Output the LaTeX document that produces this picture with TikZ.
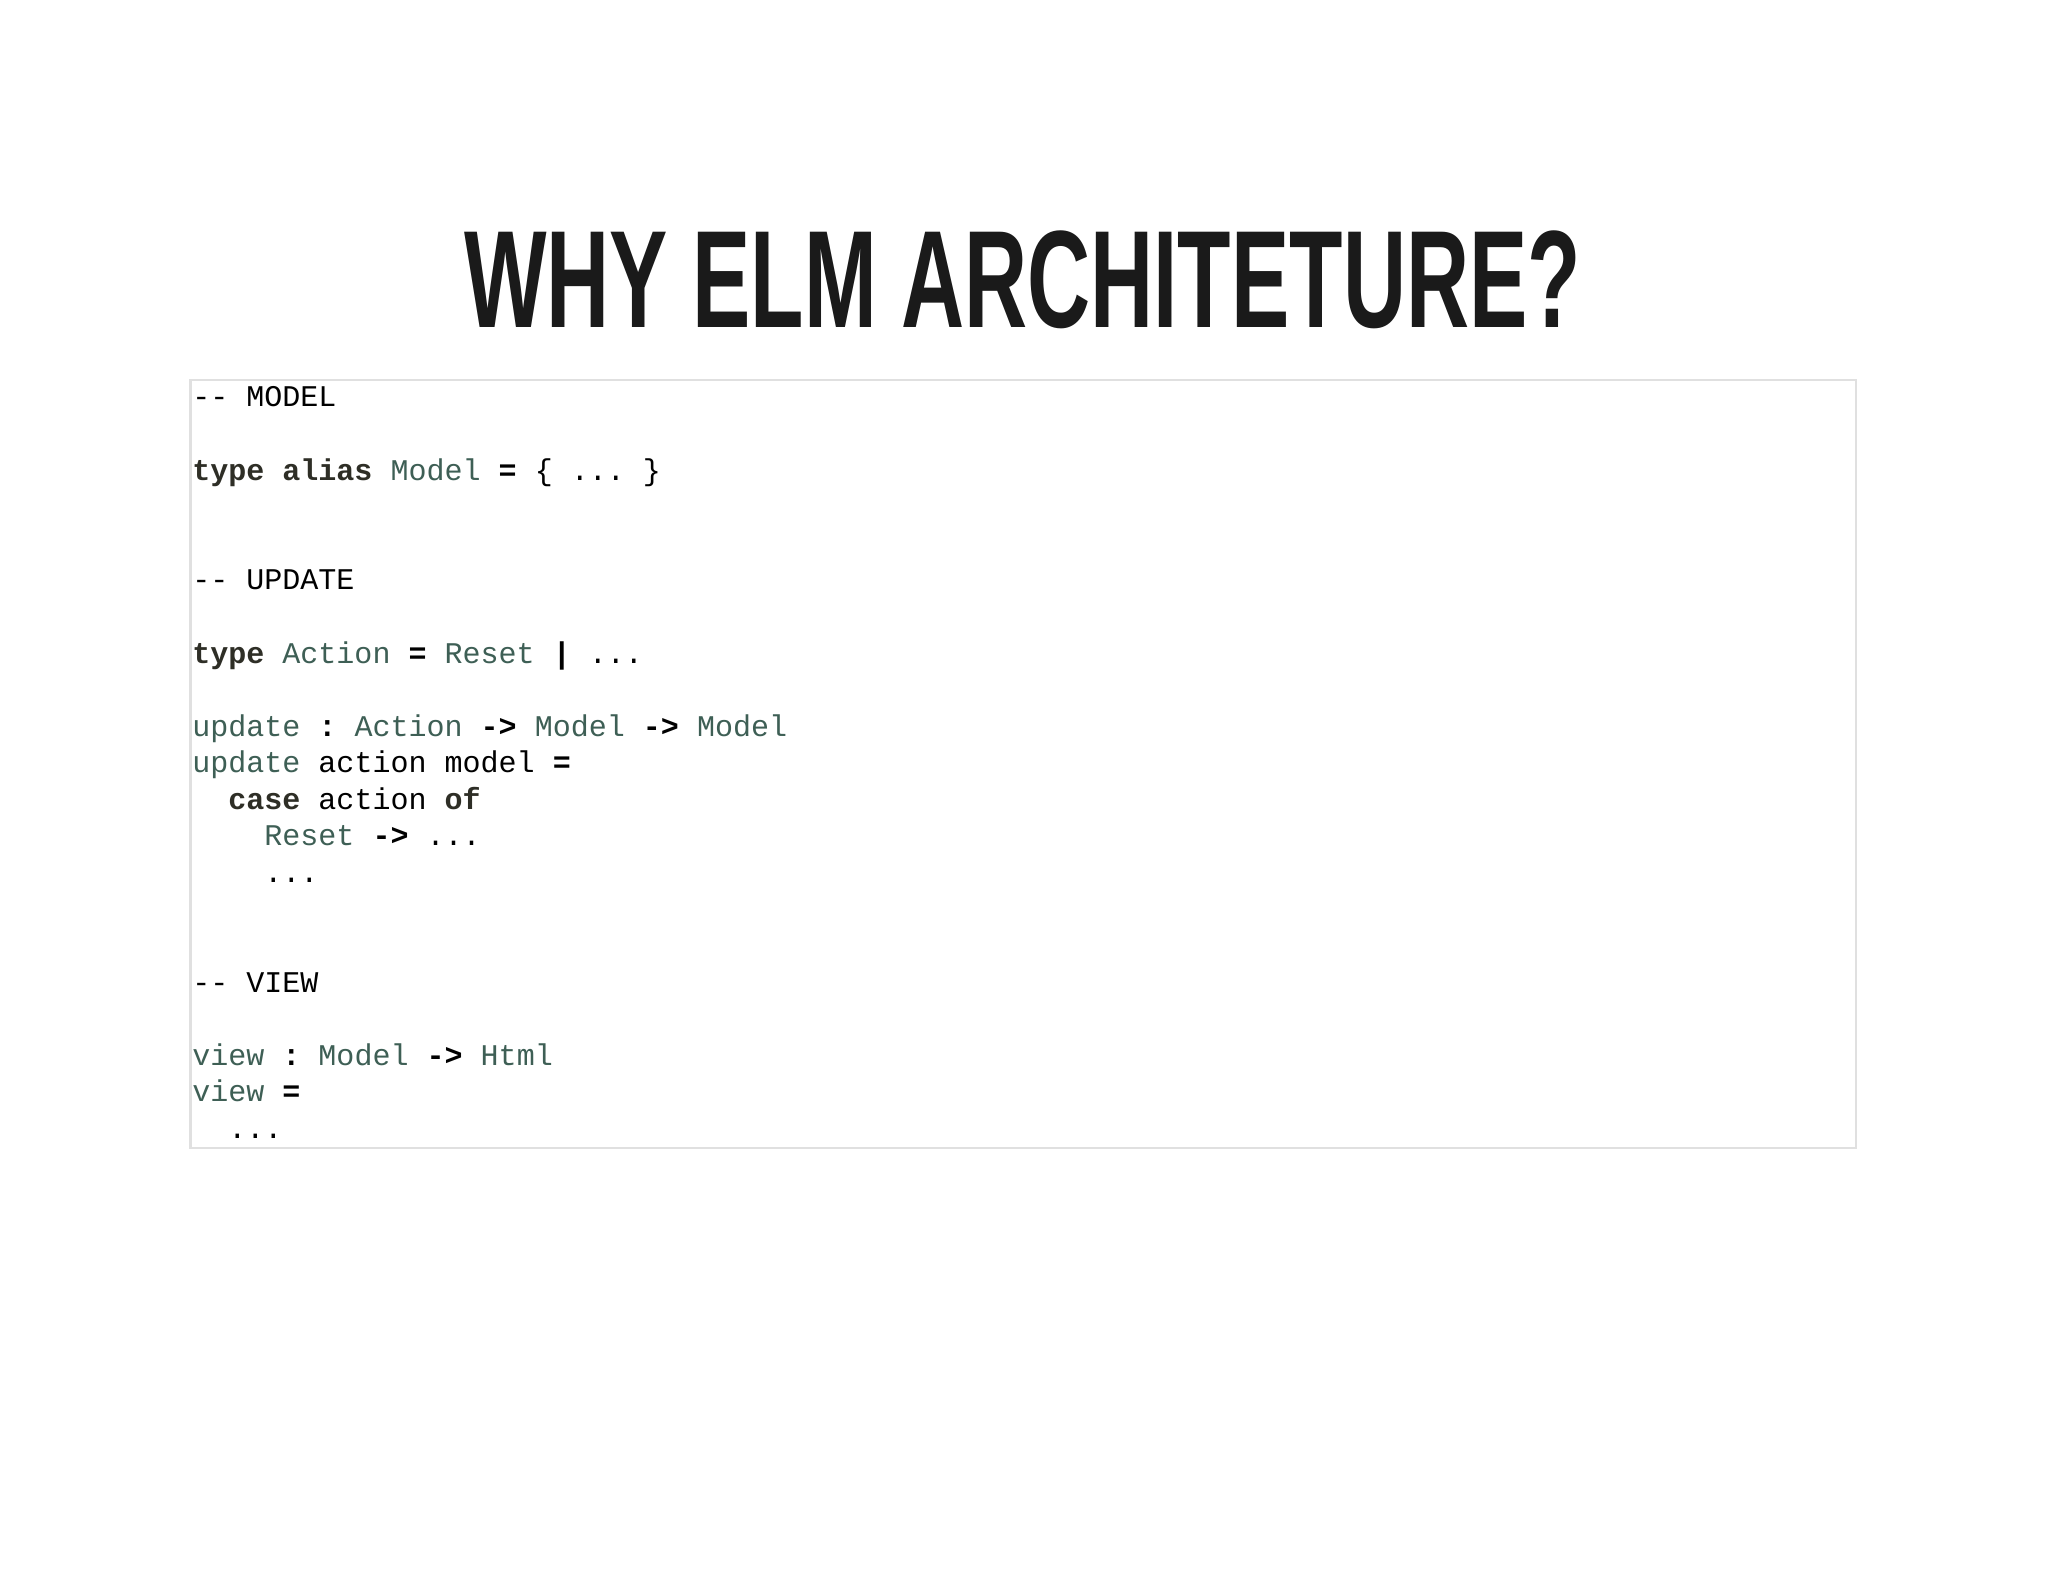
\documentclass[tikz,border=0pt]{standalone}
\usepackage{fontspec}
\setmainfont{Liberation Sans}
\setmonofont{Liberation Mono}
\definecolor{ty}{HTML}{3E5F55}
\definecolor{kw}{HTML}{2E2E26}
\newcommand{\kw}[1]{\textbf{\color{kw}#1}}
\newcommand{\ty}[1]{{\color{ty}#1}}
\newcommand{\op}[1]{\textbf{#1}}
\begin{document}
\begin{tikzpicture}[x=1pt,y=-1pt,
  code/.style={anchor=west,inner sep=0pt,font=\ttfamily\fontsize{23}{28}\selectfont,text=black}]
\useasboundingbox (0,0) rectangle (1568,1211);
\fill[white] (0,0) rectangle (1568,1211);
\node (title) at (783,214) {\resizebox{855pt}{74pt}{\textbf{\color[HTML]{1A1A1A}WHY ELM ARCHITETURE?}}};
\draw[black!12, line width=2pt, fill=white] (146,291) rectangle (1421,879);
\foreach \n/\l/\t in {
 a/0/{-- MODEL},
 b/2/{\kw{type} \kw{alias} \ty{Model} \op{=} \{ ... \}},
 c/5/{-- UPDATE},
 d/7/{\kw{type} \ty{Action} \op{=} \ty{Reset} \op{|} ...},
 e/9/{\ty{update} \op{:} \ty{Action} \op{->} \ty{Model} \op{->} \ty{Model}},
 f/10/{\ty{update} action model \op{=}},
 g/11/{\ \ \kw{case} action \kw{of}},
 h/12/{\ \ \ \ \ty{Reset} \op{->} ...},
 i/13/{\ \ \ \ ...},
 j/16/{-- VIEW},
 k/18/{\ty{view} \op{:} \ty{Model} \op{->} \ty{Html}},
 l/19/{\ty{view} \op{=}},
 m/20/{\ \ ...}}
 \node[code] (\n) at (147,306+28*\l) {\strut\t};
\end{tikzpicture}
\end{document}
